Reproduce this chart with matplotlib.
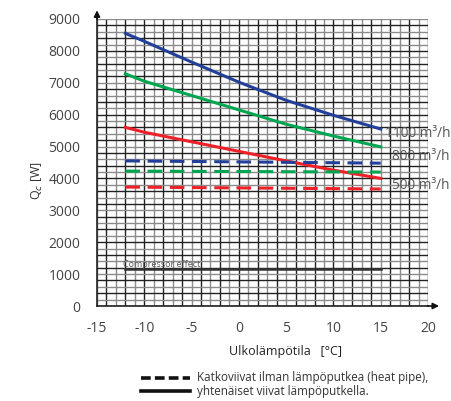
import matplotlib
matplotlib.use("Agg")
import matplotlib.pyplot as plt
from matplotlib.lines import Line2D
import numpy as np

plt.rcParams['font.family'] = ['Open Sans', 'DejaVu Sans']
plt.rcParams['lines.scale_dashes'] = False

# Data
temps = [-12, -10, -5, 0, 5, 10, 15]
q_1100 = [8550, 8300, 7650, 7020, 6450, 5980, 5550]
q_800 = [7280, 7050, 6600, 6150, 5700, 5330, 4990]
q_500 = [5600, 5450, 5150, 4850, 4550, 4260, 4000]
dash_temps = [-12, 15]
qd_1100 = [4550, 4480]
qd_800 = [4230, 4200]
qd_500 = [3730, 3670]
comp_temps = [-12, 15]
comp_q = [1160, 1160]
flow_labels = ["1100 m³/h", "800 m³/h", "500 m³/h"]
xticks = [-15, -10, -5, 0, 5, 10, 15, 20]
yticks = list(range(0, 9001, 1000))

blue = '#22409a'
green = '#00a650'
red = '#ee2028'

fig = plt.figure(figsize=(4.52, 4.01), dpi=100)
ax = fig.add_axes([97/452, 1-306/401, 331/452, 287/401])
ax.set_xlim(-15, 20)
ax.set_ylim(0, 9000)

# grid
for x in range(-15, 21):
    c = '#222222' if x % 2 == 0 else '#8c8c8c'
    ax.axvline(x, color=c, lw=1.0, zorder=1)
for y in range(0, 9001, 200):
    c = '#222222' if y % 400 == 0 else '#8c8c8c'
    ax.axhline(y, color=c, lw=1.0, zorder=1)

for s in ['top', 'right']:
    ax.spines[s].set_visible(False)
for s in ['left', 'bottom']:
    ax.spines[s].set_color('#222222')
    ax.spines[s].set_linewidth(1.2)

lw = 2.2
ax.plot(temps, q_1100, color=blue, lw=lw, zorder=3)
ax.plot(temps, q_800, color=green, lw=lw, zorder=3)
ax.plot(temps, q_500, color=red, lw=lw, zorder=3)
for qd, c in [(qd_1100, blue), (qd_800, green), (qd_500, red)]:
    ax.plot(dash_temps, qd, color=c, lw=lw, dashes=(10.5, 5.5), zorder=3)
ax.plot(comp_temps, comp_q, color='#333333', lw=1.8, zorder=3)
ax.text(-12.3, 1230, "Compressor effect", fontsize=6.5, color='#555555', zorder=4)

ax.text(15.45, q_1100[-1] - 130, flow_labels[0], fontsize=9.8, color='#555555',
        va='center', ha='left', zorder=4, clip_on=False)
ax.text(16.2, q_800[-1] - 290, flow_labels[1], fontsize=9.8, color='#555555',
        va='center', ha='left', zorder=4, clip_on=False)
ax.text(16.2, q_500[-1] - 220, flow_labels[2], fontsize=9.8, color='#555555',
        va='center', ha='left', zorder=4, clip_on=False)

ax.set_xticks(xticks)
ax.set_yticks(yticks)
ax.set_xticklabels([str(t) for t in xticks])
ax.tick_params(axis='both', length=0, labelsize=10, labelcolor='#444444')
ax.tick_params(axis='y', pad=12)
ax.tick_params(axis='x', pad=11)

# arrows
ax.annotate('', xy=(0, 1.04), xycoords='axes fraction', xytext=(0, 0.99),
            arrowprops=dict(arrowstyle='-|>', color='#111111', lw=1.2,
                            mutation_scale=9), annotation_clip=False)
ax.annotate('', xy=(1.042, 0), xycoords='axes fraction', xytext=(0.99, 0),
            arrowprops=dict(arrowstyle='-|>', color='#111111', lw=1.2,
                            mutation_scale=9), annotation_clip=False)

fig.text(37/452, 1-180/401, r"Q$_c$ [W]", rotation=90, fontsize=9,
         color='#333333', ha='center', va='center')
fig.text(286/452, 1-352/401, "Ulkolämpötila   [°C]", fontsize=9,
         color='#222222', ha='center', va='center')

# legend
fig.add_artist(Line2D([141/452, 190/452], [1-378/401, 1-378/401], color='#111111',
                      lw=2.6, dashes=(7, 3), transform=fig.transFigure))
fig.add_artist(Line2D([141/452, 190/452], [1-391/401, 1-391/401], color='#111111',
                      lw=2.6, transform=fig.transFigure))
fig.text(197/452, 1-378/401, "Katkoviivat ilman lämpöputkea (heat pipe),",
         fontsize=8.4, color='#333333', va='center', ha='left')
fig.text(197/452, 1-392/401, "yhtenäiset viivat lämpöputkella.",
         fontsize=8.4, color='#333333', va='center', ha='left')

fig.savefig("out.png", dpi=100)
